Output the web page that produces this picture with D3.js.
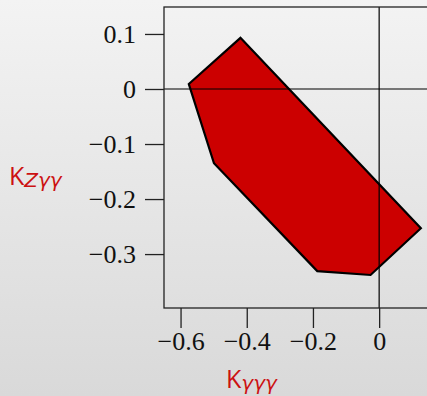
<!DOCTYPE html>
<html>
<head>
<meta charset="utf-8">
<script src="https://cdn.jsdelivr.net/npm/d3@7"></script>
<style>
  html, body { margin: 0; padding: 0; }
  body { width: 427px; height: 396px; overflow: hidden;
         background: linear-gradient(to bottom, #f3f3f3 0%, #d9d9d9 100%); }
  .tick text { font-family: "Liberation Serif", serif; font-size: 26px; fill: #111; }
</style>
</head>
<body>
<script>
// polygon (allowed region) in the K_yyy / K_Zyy plane
let regionX = [-0.575, -0.419, 0.126, -0.026, -0.187, -0.499];
let regionY = [0.009, 0.093, -0.253, -0.338, -0.331, -0.135];
let xTicks = [-0.6, -0.4, -0.2, 0];
let yTicks = [0.1, 0, -0.1, -0.2, -0.3];

let width = 427, height = 396;
let left = 164, top_ = 7, bottom = 308;

let svg = d3.select("body").append("svg")
  .attr("width", width)
  .attr("height", height);

let x = d3.scaleLinear().domain([-0.65, 0.2]).range([left, left + 0.85 * 331]);
let y = d3.scaleLinear().domain([-0.398, 0.149]).range([bottom, top_]);

let fmt = d => d === 0 ? "0" : d3.format(".1f")(d).replace("-", "\u2212");

// polygon
let pts = regionX.map((d, i) => [x(d), y(regionY[i])]);
svg.append("polygon")
  .attr("points", pts.map(p => p.join(",")).join(" "))
  .attr("fill", "#cc0000")
  .attr("stroke", "#000")
  .attr("stroke-width", 2.2)
  .attr("stroke-linejoin", "miter");

// zero lines
svg.append("line")
  .attr("x1", x.range()[0]).attr("x2", x.range()[1])
  .attr("y1", y(0)).attr("y2", y(0))
  .attr("stroke", "#000").attr("stroke-width", 1.2);
svg.append("line")
  .attr("x1", x(0)).attr("x2", x(0))
  .attr("y1", top_).attr("y2", bottom)
  .attr("stroke", "#000").attr("stroke-width", 1.2);

// frame
svg.append("rect")
  .attr("x", left).attr("y", top_)
  .attr("width", x.range()[1] - left).attr("height", bottom - top_)
  .attr("fill", "none").attr("stroke", "#222").attr("stroke-width", 1.3);

// axes
let xAxis = svg.append("g")
  .attr("transform", "translate(0," + bottom + ")")
  .call(d3.axisBottom(x).tickValues(xTicks).tickFormat(fmt).tickSize(20).tickSizeOuter(0).tickPadding(4));
let yAxis = svg.append("g")
  .attr("transform", "translate(" + left + ",0)")
  .call(d3.axisLeft(y).tickValues(yTicks).tickFormat(fmt).tickSize(19).tickSizeOuter(0).tickPadding(9));
[xAxis, yAxis].forEach(a => {
  a.select(".domain").remove();
  a.selectAll(".tick line").attr("stroke", "#222").attr("stroke-width", 1.3);
});

// axis labels
function kLabel(xp, yp, sub) {
  let t = svg.append("text")
    .attr("x", xp).attr("y", yp)
    .attr("fill", "#cc1111");
  t.append("tspan").attr("font-family", "'Open Sans', sans-serif")
    .attr("font-size", 25).text("K");
  t.append("tspan").attr("font-family", "'DejaVu Sans', sans-serif")
    .attr("font-size", 20).attr("font-style", "italic")
    .attr("dy", 2).text(sub);
}
kLabel(9, 185, "Z\u03b3\u03b3");
kLabel(226, 388, "\u03b3\u03b3\u03b3");
</script>
</body>
</html>
